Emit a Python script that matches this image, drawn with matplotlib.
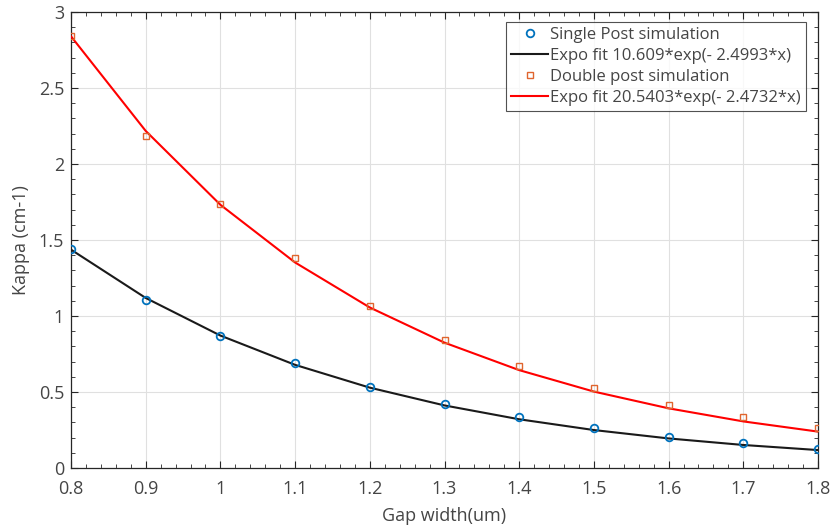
import matplotlib
matplotlib.use("Agg")
import matplotlib.pyplot as plt
from matplotlib.ticker import MultipleLocator

gap = [0.8, 0.9, 1.0, 1.1, 1.2, 1.3, 1.4, 1.5, 1.6, 1.7, 1.8]
single_sim = [1.44, 1.105, 0.868, 0.69, 0.535, 0.42, 0.337, 0.26, 0.205, 0.165, 0.127]
single_fit = [1.4366, 1.1188, 0.8713, 0.6786, 0.5286, 0.4117, 0.3206, 0.2497, 0.1945, 0.1515, 0.1180]
double_sim = [2.84, 2.185, 1.735, 1.38, 1.066, 0.84, 0.67, 0.526, 0.414, 0.335, 0.263]
double_fit = [2.8401, 2.2177, 1.7317, 1.3521, 1.0560, 0.8246, 0.6439, 0.5027, 0.3926, 0.3065, 0.2394]

labels = ["Single Post simulation", "Expo fit 10.609*exp(- 2.4993*x)",
          "Double post simulation", "Expo fit 20.5403*exp(- 2.4732*x)"]
xticks = [0.8, 0.9, 1.0, 1.1, 1.2, 1.3, 1.4, 1.5, 1.6, 1.7, 1.8]
xticklabels = ["0.8", "0.9", "1", "1.1", "1.2", "1.3", "1.4", "1.5", "1.6", "1.7", "1.8"]
yticks = [0, 0.5, 1, 1.5, 2, 2.5, 3]
yticklabels = ["0", "0.5", "1", "1.5", "2", "2.5", "3"]

plt.rcParams['font.family'] = ['Open Sans', 'DejaVu Sans']
txt = '#454545'

fig = plt.figure(figsize=(8.33, 5.29), dpi=100)
ax = fig.add_axes([71/833, 61/529, 747/833, 456/529])

l1, = ax.plot(gap, single_sim, linestyle='none', marker='o', markersize=5.5,
              markerfacecolor='none', markeredgecolor='#0072BD', markeredgewidth=1.3, zorder=4)
l2, = ax.plot(gap, single_fit, color='#1a1a1a', linewidth=1.5, zorder=3)
l3, = ax.plot(gap, double_sim, linestyle='none', marker='s', markersize=4.5,
              markerfacecolor='none', markeredgecolor='#E0652E', markeredgewidth=1.0, zorder=4)
l4, = ax.plot(gap, double_fit, color='#FF0000', linewidth=1.5, zorder=3)

ax.set_xlim(0.8, 1.8)
ax.set_ylim(0, 3)
ax.set_xticks(xticks)
ax.set_xticklabels(xticklabels)
ax.set_yticks(yticks)
ax.set_yticklabels(yticklabels)
ax.xaxis.set_minor_locator(MultipleLocator(0.02))
ax.yaxis.set_minor_locator(MultipleLocator(0.1))
ax.grid(True, which='major', color='#e0e0e0', linewidth=0.8)
ax.set_axisbelow(True)

ax.tick_params(which='both', direction='in', top=True, right=True, colors='#262626',
               labelcolor=txt, labelsize=13)
ax.tick_params(which='major', length=5, width=0.8)
ax.tick_params(which='minor', length=3, width=0.6)
ax.tick_params(axis='x', which='major', pad=9)
ax.tick_params(axis='y', which='major', pad=5)
for s in ax.spines.values():
    s.set_color('#262626')
    s.set_linewidth(0.9)

ax.set_xlabel("Gap width(um)", fontsize=13, color=txt, labelpad=6)
ax.set_ylabel("Kappa (cm-1)", fontsize=13, color=txt, labelpad=6)

leg = ax.legend([l1, l2, l3, l4], labels, loc='upper right',
                bbox_to_anchor=(806/833, 517/529 - 10/529), bbox_transform=fig.transFigure,
                fontsize=12, frameon=True, fancybox=False, handlelength=2.2,
                handletextpad=0.15, borderpad=0.3, labelspacing=0.3, borderaxespad=0)
leg.get_frame().set_edgecolor('#262626')
leg.get_frame().set_linewidth(0.8)
for t in leg.get_texts():
    t.set_color(txt)

fig.savefig("out.png", dpi=100)
